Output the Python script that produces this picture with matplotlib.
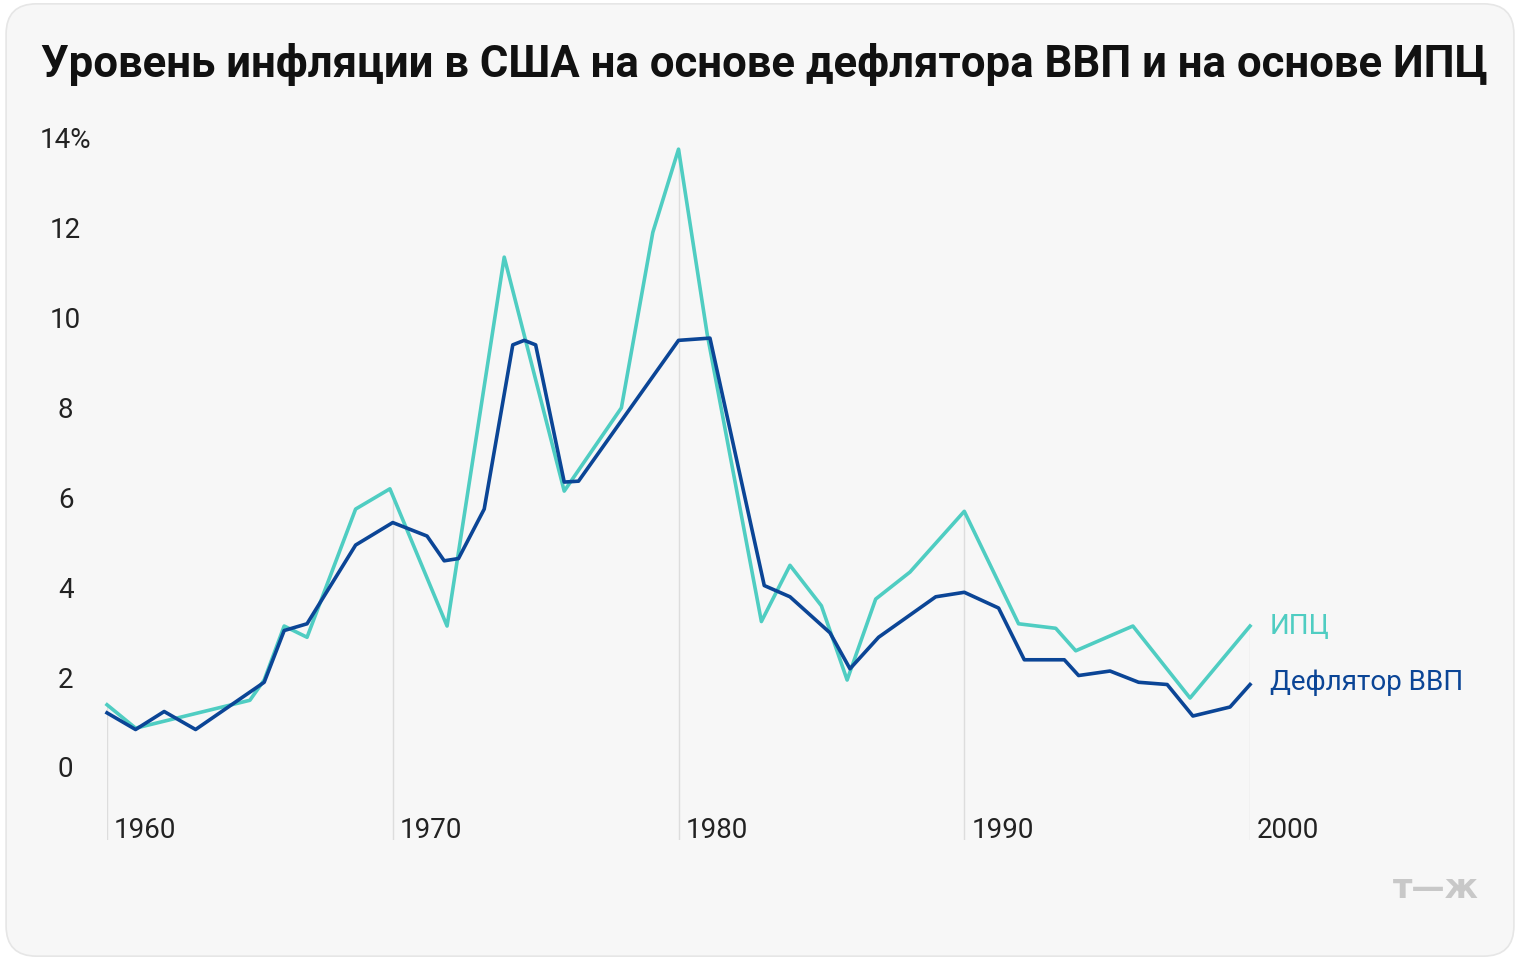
import matplotlib.pyplot as plt
import numpy as np
from matplotlib.patches import FancyBboxPatch

cpi_years = [1960, 1961, 1965, 1965.5, 1966.2, 1967, 1968.7, 1969.9, 1971.9, 1973.9,
             1976, 1978, 1979.1, 1980, 1981, 1982.9, 1983.9, 1985, 1985.9, 1986.9,
             1988.1, 1990, 1991.9, 1993.2, 1993.9, 1995.9, 1997.9, 2000]
cpi = [1.45, 0.93, 1.55, 2.0, 3.2, 2.95, 5.8, 6.25, 3.2, 11.4,
       6.2, 8.05, 11.95, 13.8, 9.7, 3.3, 4.55, 3.65, 2.0, 3.8,
       4.4, 5.75, 3.25, 3.15, 2.65, 3.2, 1.6, 3.2]

gdp_years = [1960, 1961, 1962, 1963.1, 1965.5, 1966.2, 1967, 1968.7, 1970, 1971.2,
             1971.8, 1972.3, 1973.2, 1974.2, 1974.6, 1975, 1976, 1976.5, 1980, 1981.1,
             1983, 1983.9, 1985.3, 1986, 1987, 1989, 1990, 1991.2, 1992.1, 1993.5,
             1994, 1995.1, 1996.1, 1997.1, 1998, 1999.3, 2000]
gdp = [1.27, 0.9, 1.3, 0.9, 1.95, 3.1, 3.25, 5.0, 5.5, 5.2,
       4.65, 4.7, 5.8, 9.45, 9.55, 9.45, 6.4, 6.42, 9.55, 9.6,
       4.1, 3.85, 3.05, 2.25, 2.95, 3.85, 3.95, 3.6, 2.45, 2.45,
       2.1, 2.2, 1.95, 1.9, 1.2, 1.4, 1.9]

yticks = [0, 2, 4, 6, 8, 10, 12, 14]
xticks = [1960, 1970, 1980, 1990, 2000]

teal = '#4fcdc2'
navy = '#0b4596'

fig = plt.figure(figsize=(15.2, 9.6), dpi=100)
fig.patch.set_facecolor('white')
card = FancyBboxPatch((0.004, 0.004), 0.992, 0.992, boxstyle='round,pad=0,rounding_size=0.02',
                      transform=fig.transFigure, facecolor='#f7f7f7', edgecolor='#e6e6e6',
                      linewidth=1.2, mutation_aspect=1.58, zorder=-10)
fig.patches.append(card)

fig.text(0.027, 0.933, 'Уровень инфляции в США на основе дефлятора ВВП и на основе ИПЦ',
         fontsize=31.5, fontweight='bold', fontfamily='Roboto', va='center', color='#111111')

ax = fig.add_axes([0.0704, 0.125, 0.752, 0.729])
ax.set_facecolor('none')
ax.set_xlim(1960, 2000)
ax.set_ylim(-1.556, 14)
for s in ax.spines.values():
    s.set_visible(False)
ax.set_xticks([])
ax.set_yticks([])

for x in xticks:
    top = np.interp(x, cpi_years, cpi)
    ax.vlines(x, -1.556, top, color='#dddddd', linewidth=1, zorder=0)
    ax.text(x + 0.25, -1.35, str(x), fontsize=20, fontfamily='Roboto', color='#222222',
            va='center', ha='left')
for y in yticks:
    lab = f'{y}%' if y == 14 else str(y)
    ax.text(1958.55, y, lab, fontsize=20, fontfamily='Roboto', color='#222222',
            va='center', ha='center', clip_on=False)

ax.plot(cpi_years, cpi, color=teal, linewidth=2.6, solid_joinstyle='round', clip_on=False)
ax.plot(gdp_years, gdp, color=navy, linewidth=2.6, solid_joinstyle='round', clip_on=False)

ax.text(2000.7, 3.2, 'ИПЦ', color=teal, fontsize=20, fontfamily='Roboto', va='center')
ax.text(2000.7, 1.95, 'Дефлятор ВВП', color=navy, fontsize=20, fontfamily='Roboto', va='center')

fig.text(0.973, 0.075, 'т—ж', color='#c8c8c8', fontsize=24, fontweight='bold',
         fontfamily='DejaVu Sans', ha='right', va='center')

fig.savefig('out.png', dpi=100)
